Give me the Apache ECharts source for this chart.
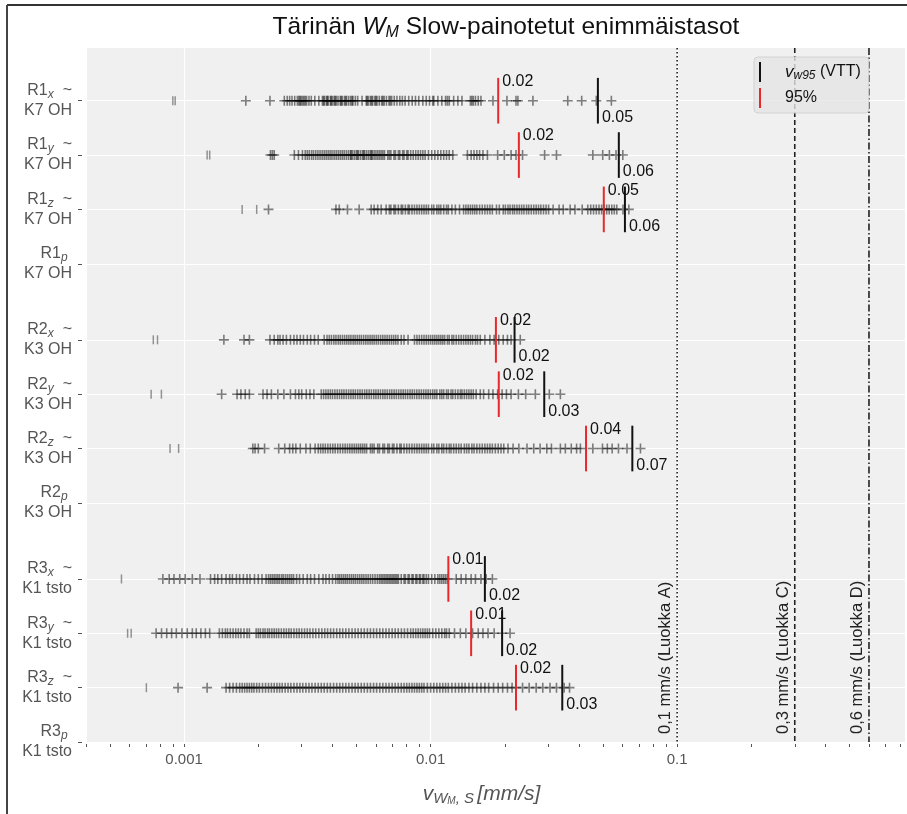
<!DOCTYPE html>
<html>
<head>
<meta charset="utf-8">
<script src="https://cdn.jsdelivr.net/npm/echarts@6/dist/echarts.min.js"></script>
<style>
  html, body { margin: 0; padding: 0; background: #fff; }
  #chart { width: 907px; height: 814px; }
</style>
</head>
<body>
<div id="chart"></div>
<script>
(function () {
    'use strict';

    var FONT = '"Liberation Sans", Arial, sans-serif';

    // rows (top to bottom) and their positions on the y axis
    var rowName = ['R1', 'R1', 'R1', 'R1', 'R2', 'R2', 'R2', 'R2', 'R3', 'R3', 'R3', 'R3'];
    var rowDir = ['x', 'y', 'z', 'p', 'x', 'y', 'z', 'p', 'x', 'y', 'z', 'p'];
    var rowSite = ['K7 OH', 'K7 OH', 'K7 OH', 'K7 OH', 'K3 OH', 'K3 OH', 'K3 OH', 'K3 OH',
        'K1 tsto', 'K1 tsto', 'K1 tsto', 'K1 tsto'];
    var rowPos = [0, 1, 2, 3, 4.4, 5.4, 6.4, 7.4, 8.8, 9.8, 10.8, 11.8];

    // measured maxima per row, mm/s ('+' markers)
    var r1x = [0.00178, 0.00223, 0.00255, 0.00262, 0.00268, 0.00274, 0.00281, 0.00288, 0.00292, 0.00295, 0.00298,
        0.00302, 0.00306, 0.0031, 0.00314, 0.00321, 0.00328, 0.00339, 0.00352, 0.00364, 0.00368, 0.00371, 0.00378,
        0.00381, 0.00384, 0.00392, 0.00395, 0.00399, 0.00406, 0.0041, 0.00414, 0.00421, 0.0043, 0.00434, 0.00438,
        0.00447, 0.00452, 0.00456, 0.00465, 0.00474, 0.0048, 0.00484, 0.00495, 0.00506, 0.00527, 0.00548, 0.00553,
        0.00559, 0.0057, 0.00576, 0.00582, 0.00594, 0.006, 0.00606, 0.00619, 0.00633, 0.0064, 0.00648, 0.00662,
        0.00678, 0.00686, 0.00695, 0.00712, 0.0073, 0.0075, 0.00768, 0.00788, 0.00815, 0.00842, 0.00868, 0.00895,
        0.0093, 0.0096, 0.0099, 0.0102, 0.0103, 0.0107, 0.0111, 0.0115, 0.0117, 0.0119, 0.0124, 0.0129, 0.0134,
        0.0145, 0.0147, 0.0149, 0.0152, 0.0156, 0.016, 0.0179, 0.0204, 0.0222, 0.0226, 0.026, 0.036, 0.041,
        0.047, 0.0541];
    var r1y = [0.00224, 0.00228, 0.00232, 0.0028, 0.00291, 0.00302, 0.0031, 0.00316, 0.00322, 0.00329, 0.00335,
        0.00342, 0.00349, 0.00356, 0.00363, 0.0037, 0.00377, 0.00384, 0.00391, 0.00398, 0.00406, 0.00414, 0.00422,
        0.0043, 0.00438, 0.00446, 0.00455, 0.00464, 0.00473, 0.00476, 0.00482, 0.00491, 0.005, 0.00505, 0.0051,
        0.0052, 0.0053, 0.00535, 0.0054, 0.0055, 0.0056, 0.0057, 0.00575, 0.0058, 0.0059, 0.006, 0.0061, 0.0062,
        0.0063, 0.0064, 0.0065, 0.0067, 0.0068, 0.0069, 0.0071, 0.0072, 0.0074, 0.0075, 0.0077, 0.0078, 0.008,
        0.0081, 0.0083, 0.0085, 0.0087, 0.0089, 0.0091, 0.0093, 0.0095, 0.0098, 0.0101, 0.0104, 0.0107, 0.011,
        0.0113, 0.0116, 0.0119, 0.0123, 0.0141, 0.0146, 0.015, 0.0154, 0.0158, 0.0163, 0.017, 0.0187, 0.0199,
        0.0212, 0.0222, 0.0236, 0.029, 0.0324, 0.0455, 0.0499, 0.0531, 0.0565, 0.0602];
    var r1z = [0.0022, 0.00413, 0.00426, 0.0046, 0.00513, 0.00574, 0.0059, 0.0061, 0.0063, 0.0066, 0.0068,
        0.0069, 0.0071, 0.0072, 0.0074, 0.0076, 0.0077, 0.0079, 0.0081, 0.0082, 0.0084, 0.0086, 0.0088, 0.009,
        0.0092, 0.0094, 0.0096, 0.0098, 0.0101, 0.0103, 0.0106, 0.0108, 0.011, 0.0113, 0.0116, 0.0118, 0.0122,
        0.0126, 0.0131, 0.0136, 0.0139, 0.0142, 0.0145, 0.0148, 0.0151, 0.0154, 0.0158, 0.0162, 0.0166, 0.017,
        0.0174, 0.0178, 0.0185, 0.019, 0.0197, 0.0201, 0.0206, 0.021, 0.0215, 0.0219, 0.0224, 0.0229, 0.0234,
        0.0239, 0.0245, 0.025, 0.0256, 0.0262, 0.0268, 0.0274, 0.028, 0.0287, 0.0294, 0.0301, 0.0314, 0.0332,
        0.0345, 0.0368, 0.0385, 0.0412, 0.0434, 0.0446, 0.0458, 0.047, 0.0482, 0.0494, 0.0506, 0.0518, 0.053,
        0.0543, 0.0556, 0.0569, 0.0603, 0.0637];
    var r2x = [0.00145, 0.00175, 0.00184, 0.00223, 0.00232, 0.0024, 0.00245, 0.00252, 0.0026, 0.0027, 0.00279,
        0.00287, 0.00296, 0.00305, 0.00316, 0.00326, 0.00338, 0.0035, 0.0037, 0.0038, 0.00388, 0.00396, 0.00405,
        0.00413, 0.00422, 0.0043, 0.00439, 0.00448, 0.00457, 0.00466, 0.00475, 0.00485, 0.00494, 0.00504, 0.00514,
        0.00524, 0.00535, 0.00546, 0.00557, 0.00568, 0.00579, 0.0059, 0.00602, 0.00614, 0.00627, 0.0064, 0.00653,
        0.00666, 0.0068, 0.00694, 0.00708, 0.00722, 0.00737, 0.0076, 0.0078, 0.0081, 0.0086, 0.0088, 0.009,
        0.0092, 0.0094, 0.0096, 0.0098, 0.01, 0.0102, 0.0104, 0.0106, 0.0108, 0.011, 0.0112, 0.0114, 0.0117,
        0.0119, 0.0122, 0.0124, 0.0127, 0.013, 0.0133, 0.0136, 0.0139, 0.0142, 0.0145, 0.0148, 0.0152, 0.0155,
        0.0159, 0.0166, 0.0174, 0.0181, 0.0189, 0.0197, 0.0205, 0.0212, 0.0231];
    var r2y = [0.00142, 0.00164, 0.0017, 0.00177, 0.00184, 0.00209, 0.00217, 0.00226, 0.0024, 0.00254, 0.0027,
        0.00283, 0.00292, 0.003, 0.00313, 0.00324, 0.00336, 0.0036, 0.00368, 0.00376, 0.00384, 0.00392, 0.004,
        0.00409, 0.00418, 0.00427, 0.00436, 0.00445, 0.00455, 0.00465, 0.00475, 0.00485, 0.00495, 0.00506,
        0.00517, 0.00528, 0.0054, 0.00551, 0.00563, 0.00575, 0.00588, 0.006, 0.00613, 0.00626, 0.0064, 0.00653,
        0.00667, 0.00682, 0.00696, 0.00711, 0.00726, 0.00742, 0.00758, 0.00774, 0.0079, 0.00807, 0.00825, 0.00842,
        0.0086, 0.00879, 0.00898, 0.00917, 0.00937, 0.00957, 0.00977, 0.00998, 0.0102, 0.0104, 0.0106, 0.0109,
        0.0111, 0.0113, 0.0116, 0.0118, 0.0121, 0.0123, 0.0126, 0.0129, 0.0132, 0.0134, 0.0137, 0.014, 0.0143,
        0.0146, 0.0149, 0.0153, 0.0159, 0.0164, 0.0172, 0.0179, 0.0187, 0.0195, 0.0203, 0.0212, 0.0227, 0.0243,
        0.0266, 0.0303, 0.0336];
    var r2z = [0.0019, 0.00194, 0.002, 0.00212, 0.00242, 0.00256, 0.00268, 0.00276, 0.00284, 0.00296, 0.00312,
        0.00325, 0.0034, 0.0035, 0.00358, 0.00366, 0.00374, 0.00383, 0.00392, 0.00401, 0.0041, 0.0042, 0.0043,
        0.0044, 0.0045, 0.0046, 0.0047, 0.0048, 0.0049, 0.0050, 0.0051, 0.0052, 0.0053, 0.0054, 0.0055, 0.0057,
        0.0058, 0.0059, 0.0061, 0.0062, 0.0064, 0.0065, 0.0067, 0.0068, 0.007, 0.0071, 0.0073, 0.0075, 0.0076,
        0.0078, 0.008, 0.0082, 0.0084, 0.0086, 0.0088, 0.009, 0.0092, 0.0094, 0.0096, 0.0098, 0.0101, 0.0103,
        0.0106, 0.0108, 0.0111, 0.0113, 0.0116, 0.0119, 0.0121, 0.0124, 0.0127, 0.013, 0.0133, 0.0137, 0.014,
        0.0143, 0.0147, 0.015, 0.0154, 0.0158, 0.0162, 0.0166, 0.017, 0.0174, 0.0178, 0.0183, 0.0188, 0.0193,
        0.0198, 0.0206, 0.0216, 0.0228, 0.0246, 0.0262, 0.0278, 0.0296, 0.0309, 0.0336, 0.0352, 0.0372, 0.0391,
        0.0405, 0.0455, 0.0498, 0.0521, 0.0545, 0.0578, 0.0626, 0.071];
    var r3x = [0.00082, 0.00087, 0.00091, 0.00096, 0.00101, 0.00108, 0.00116, 0.00128, 0.00133, 0.00137, 0.00142,
        0.00148, 0.00153, 0.00157, 0.00163, 0.00168, 0.00174, 0.0018, 0.00185, 0.00193, 0.002, 0.00207, 0.00215,
        0.0022, 0.00224, 0.00228, 0.00232, 0.00236, 0.0024, 0.00244, 0.00249, 0.00253, 0.00258, 0.00263, 0.00268,
        0.00273, 0.00278, 0.00286, 0.00294, 0.00304, 0.00316, 0.00326, 0.00338, 0.00352, 0.00366, 0.00376, 0.00388,
        0.004, 0.00412, 0.00421, 0.00428, 0.00436, 0.00444, 0.00452, 0.0046, 0.00469, 0.00478, 0.00487, 0.00496,
        0.00506, 0.00516, 0.00526, 0.00536, 0.00547, 0.00558, 0.0057, 0.00582, 0.00595, 0.00608, 0.0062, 0.0063,
        0.0064, 0.0065, 0.0066, 0.0067, 0.0068, 0.0069, 0.007, 0.0071, 0.0072, 0.0073, 0.0074, 0.0076, 0.0078,
        0.0079, 0.0081, 0.0082, 0.0084, 0.0085, 0.0087, 0.0088, 0.009, 0.0091, 0.0093, 0.0094, 0.0096, 0.0098,
        0.0101, 0.0104, 0.0107, 0.0109, 0.0111, 0.0113, 0.0115, 0.0117, 0.0127, 0.0133, 0.0139, 0.0146, 0.0152,
        0.016, 0.0168, 0.0178];
    var r3y = [0.00077, 0.00081, 0.00085, 0.00089, 0.00093, 0.00098, 0.00103, 0.00108, 0.00112, 0.00117, 0.00122,
        0.00127, 0.00139, 0.00143, 0.00147, 0.0015, 0.00154, 0.00158, 0.00162, 0.00166, 0.0017, 0.00175, 0.0018,
        0.00184, 0.00196, 0.002, 0.00204, 0.00209, 0.00213, 0.00218, 0.00222, 0.00227, 0.00232, 0.00237, 0.00242,
        0.00248, 0.00254, 0.0026, 0.00266, 0.00272, 0.00279, 0.00286, 0.00293, 0.003, 0.00308, 0.00316, 0.00324,
        0.00333, 0.00342, 0.00352, 0.00362, 0.00372, 0.00382, 0.00393, 0.00404, 0.00416, 0.00428, 0.0044, 0.00453,
        0.00466, 0.0048, 0.00494, 0.00508, 0.00523, 0.00538, 0.00554, 0.0057, 0.00587, 0.00604, 0.00622, 0.0064,
        0.00659, 0.00678, 0.00698, 0.00718, 0.00739, 0.00761, 0.00783, 0.00806, 0.0083, 0.0085, 0.0087, 0.0089,
        0.0091, 0.0093, 0.0095, 0.0097, 0.0099, 0.0102, 0.0105, 0.0108, 0.0111, 0.0114, 0.0116, 0.0119, 0.0125,
        0.0132, 0.0139, 0.0148, 0.0156, 0.0163, 0.0171, 0.0181, 0.0195, 0.021];
    var r3z = [0.000945, 0.00124, 0.00148, 0.00153, 0.00158, 0.00163, 0.00168, 0.00172, 0.00176, 0.0018, 0.00184,
        0.00188, 0.00192, 0.00197, 0.00202, 0.00208, 0.00214, 0.0022, 0.00226, 0.00232, 0.00238, 0.00244, 0.0025,
        0.00257, 0.00264, 0.00271, 0.00279, 0.00287, 0.00295, 0.00303, 0.00312, 0.00321, 0.0033, 0.0034, 0.0035,
        0.0036, 0.0037, 0.00381, 0.00392, 0.00404, 0.00416, 0.00428, 0.0044, 0.00453, 0.00466, 0.0048, 0.00494,
        0.00508, 0.00523, 0.00538, 0.00554, 0.0057, 0.00587, 0.00604, 0.00622, 0.0064, 0.00659, 0.00678, 0.00698,
        0.00718, 0.00739, 0.0076, 0.0078, 0.008, 0.0082, 0.0084, 0.0086, 0.0088, 0.009, 0.0092, 0.0094, 0.0097,
        0.01, 0.0103, 0.0106, 0.0109, 0.0112, 0.0115, 0.0118, 0.0122, 0.0126, 0.013, 0.0134, 0.0138, 0.0143,
        0.0148, 0.0154, 0.016, 0.0166, 0.0172, 0.018, 0.0188, 0.0196, 0.0205, 0.0214, 0.0222, 0.0236, 0.0251,
        0.0268, 0.0285, 0.0305, 0.0324, 0.0348, 0.0366];
    var rowPoints = [r1x, r1y, r1z, [], r2x, r2y, r2z, [], r3x, r3y, r3z, []];

    // smallest readings, drawn as '|' marks
    var rowLow = [[0.0009, 0.00092], [0.00124, 0.00127], [0.00172, 0.00197], [],
        [0.00075, 0.00078], [0.000735, 0.000809], [0.000877, 0.00095], [],
        [0.000557], [0.00059, 0.00061], [0.000703], []];

    // 95 % value and v_w95 (VTT) per row
    var p95 = [0.0188, 0.0228, 0.0504, null, 0.0184, 0.0189, 0.0427, null, 0.0118, 0.0146, 0.0222, null];
    var vw95 = [0.0477, 0.058, 0.0614, null, 0.0219, 0.0289, 0.0658, null, 0.0166, 0.0195, 0.0342, null];

    // class limits
    var limitValues = [0.1, 0.3, 0.6];
    var limitLabels = ['0,1 mm/s (Luokka A)', '0,3 mm/s (Luokka C)', '0,6 mm/s (Luokka D)'];
    var limitDash = [[1.5, 2.5], [5, 3], [7, 2.5, 1.5, 2.5]];

    var xMajor = [0.001, 0.01, 0.1];
    var xMinor = [0.0004, 0.0005, 0.0006, 0.0007, 0.0008, 0.0009, 0.001, 0.002, 0.003, 0.004, 0.005, 0.006,
        0.007, 0.008, 0.009, 0.01, 0.02, 0.03, 0.04, 0.05, 0.06, 0.07, 0.08, 0.09, 0.1, 0.2, 0.3, 0.4, 0.5,
        0.6, 0.7, 0.8];

    var X_MIN = 0.0004, X_MAX = 0.84, Y_MIN = -0.97, Y_MAX = 11.8;
    var HALF = 0.42;

    var plusPath = 'path://M4.2,0h1.6v4.2h4.2v1.6h-4.2v4.2h-1.6v-4.2h-4.2v-1.6h4.2z';
    var barPath = 'path://M0,0h1v10h-1z';

    var plusData = [], lowData = [], p95Data = [], vwData = [];
    rowPoints.forEach(function (arr, i) {
        arr.forEach(function (v) { plusData.push([v, rowPos[i]]); });
        rowLow[i].forEach(function (v) { lowData.push([v, rowPos[i]]); });
        if (p95[i] != null) p95Data.push([p95[i], rowPos[i]]);
        if (vw95[i] != null) vwData.push([vw95[i], rowPos[i]]);
    });
    var limitData = limitValues.map(function (v) { return [v, Y_MAX]; });

    function rowLabel(value) {
        var i = rowPos.indexOf(value);
        if (i < 0) return '';
        var first = rowDir[i] === 'p'
            ? '{n|' + rowName[i] + '}{s|' + rowDir[i] + '}{n| }'
            : '{n|' + rowName[i] + '}{s|' + rowDir[i] + '}{n|  ~}';
        return first + '\n{n|' + rowSite[i] + '}';
    }

    function markRenderer(color, labelDy) {
        return function (params, api) {
            var x = api.value(0), y = api.value(1);
            var top = api.coord([x, y - HALF]);
            var bot = api.coord([x, y + HALF]);
            var mid = api.coord([x, y]);
            return {
                type: 'group',
                children: [{
                    type: 'line',
                    shape: { x1: top[0], y1: top[1], x2: bot[0], y2: bot[1] },
                    style: { stroke: color, lineWidth: 2 }
                }, {
                    type: 'text',
                    x: mid[0] + 4,
                    y: mid[1] + labelDy,
                    style: {
                        text: x.toFixed(2),
                        fill: '#111',
                        font: '16px ' + FONT,
                        textAlign: 'left',
                        textVerticalAlign: 'middle'
                    }
                }]
            };
        };
    }

    var chart = echarts.init(document.getElementById('chart'));
    var option = {
        backgroundColor: '#fff',
        animation: false,
        title: {
            text: '{n|Tärinän }{i|W}{s|M}{n| Slow-painotetut enimmäistasot}',
            left: 506,
            top: 14,
            textAlign: 'center',
            padding: 0,
            textStyle: {
                fontWeight: 'normal',
                rich: {
                    n: { fontFamily: FONT, fontSize: 24.5, fontWeight: 'normal', color: '#111', lineHeight: 27 },
                    i: { fontFamily: FONT, fontSize: 24.5, fontWeight: 'normal', color: '#111', fontStyle: 'italic', lineHeight: 27 },
                    s: { fontFamily: FONT, fontSize: 16, fontWeight: 'normal', color: '#111', fontStyle: 'italic', lineHeight: 20, verticalAlign: 'bottom' }
                }
            }
        },
        legend: {
            orient: 'vertical',
            left: 754,
            top: 57,
            padding: [5, 8, 5, 5],
            itemGap: 6,
            itemWidth: 40,
            itemHeight: 20,
            backgroundColor: 'rgba(229,229,229,0.8)',
            borderColor: '#d2d2d2',
            borderWidth: 1,
            borderRadius: 4,
            data: [
                { name: 'vw95', icon: barPath },
                { name: '95%', icon: barPath }
            ],
            formatter: function (name) {
                return name === 'vw95' ? '{v|v}{s|w95}{t| (VTT)}' : '{t|95%}';
            },
            textStyle: {
                rich: {
                    v: { fontFamily: FONT, fontSize: 17, fontStyle: 'italic', color: '#111', lineHeight: 20 },
                    s: { fontFamily: FONT, fontSize: 12, fontStyle: 'italic', color: '#111', lineHeight: 16, verticalAlign: 'bottom' },
                    t: { fontFamily: FONT, fontSize: 16, color: '#111', lineHeight: 20 }
                }
            }
        },
        grid: {
            left: 86,
            right: 2,
            top: 48,
            bottom: 72,
            show: true,
            backgroundColor: '#f0f0f0',
            borderWidth: 0
        },
        xAxis: [{
            type: 'log',
            logBase: 10,
            min: X_MIN,
            max: X_MAX,
            position: 'bottom',
            offset: 2,
            axisLine: { show: false },
            axisTick: { show: false },
            axisLabel: {
                customValues: xMajor,
                margin: 8,
                color: '#555',
                fontFamily: FONT,
                fontSize: 15,
                formatter: function (v) { return String(v); }
            },
            splitLine: { show: true, lineStyle: { color: '#fff', width: 1.2 } },
            name: '{v|v}{s|W}{ss|M}{s|, S} {u|[mm/s]}',
            nameLocation: 'middle',
            nameGap: 38,
            nameTextStyle: {
                padding: [0, 28, 0, 0],
                rich: {
                    v: { fontFamily: FONT, fontSize: 21, fontStyle: 'italic', color: '#555', lineHeight: 24 },
                    s: { fontFamily: FONT, fontSize: 15, fontStyle: 'italic', color: '#555', lineHeight: 20, verticalAlign: 'bottom' },
                    ss: { fontFamily: FONT, fontSize: 10, fontStyle: 'italic', color: '#555', lineHeight: 14, verticalAlign: 'bottom' },
                    u: { fontFamily: FONT, fontSize: 21, fontStyle: 'italic', color: '#555', lineHeight: 24 }
                }
            }
        }, {
            type: 'log',
            logBase: 10,
            min: X_MIN,
            max: X_MAX,
            position: 'bottom',
            offset: 2,
            axisLine: { show: false },
            axisTick: { show: true, customValues: xMinor, length: 3, lineStyle: { color: '#555', width: 1 } },
            axisLabel: { show: false },
            splitLine: { show: false }
        }],
        yAxis: {
            type: 'value',
            inverse: true,
            min: Y_MIN,
            max: Y_MAX,
            offset: 4,
            axisLine: { show: false },
            axisTick: { show: true, customValues: rowPos, length: 4, lineStyle: { color: '#555', width: 1 } },
            axisLabel: {
                customValues: rowPos,
                margin: 10,
                align: 'right',
                formatter: rowLabel,
                rich: {
                    n: { fontFamily: FONT, fontSize: 16, color: '#555', lineHeight: 20 },
                    s: { fontFamily: FONT, fontSize: 12, color: '#555', fontStyle: 'italic', lineHeight: 14, verticalAlign: 'bottom' }
                }
            },
            splitLine: { show: true, lineStyle: { color: '#fff', width: 1.2 } }
        },
        graphic: [
            { type: 'line', shape: { x1: 7, y1: 5, x2: 907, y2: 5 }, style: { stroke: '#333', lineWidth: 2 }, silent: true },
            { type: 'line', shape: { x1: 7, y1: 5, x2: 7, y2: 814 }, style: { stroke: '#444', lineWidth: 2 }, silent: true }
        ],
        series: [{
            name: 'limits',
            type: 'custom',
            data: limitData,
            encode: { x: 0, y: 1 },
            z: 2,
            silent: true,
            renderItem: function (params, api) {
                var x = api.value(0);
                var top = api.coord([x, Y_MIN]);
                var bot = api.coord([x, Y_MAX]);
                return {
                    type: 'group',
                    children: [{
                        type: 'line',
                        shape: { x1: top[0], y1: top[1], x2: bot[0], y2: bot[1] },
                        style: { stroke: '#222', lineWidth: 1.6, lineDash: limitDash[params.dataIndex] }
                    }, {
                        type: 'text',
                        x: bot[0] - 3,
                        y: bot[1] - 8,
                        rotation: Math.PI / 2,
                        style: {
                            text: limitLabels[params.dataIndex],
                            fill: '#222',
                            font: '16.5px ' + FONT,
                            textAlign: 'left',
                            textVerticalAlign: 'bottom'
                        }
                    }]
                };
            }
        }, {
            name: 'points',
            type: 'scatter',
            data: plusData,
            symbol: plusPath,
            symbolSize: 10,
            itemStyle: { color: 'rgba(0,0,0,0.62)' },
            silent: true,
            z: 3
        }, {
            name: 'low',
            type: 'scatter',
            data: lowData,
            symbol: barPath,
            symbolSize: [1.5, 9],
            itemStyle: { color: 'rgba(0,0,0,0.5)' },
            silent: true,
            z: 3
        }, {
            name: '95%',
            type: 'custom',
            data: p95Data,
            encode: { x: 0, y: 1 },
            itemStyle: { color: '#e8282b' },
            z: 4,
            renderItem: markRenderer('#e8282b', -19)
        }, {
            name: 'vw95',
            type: 'custom',
            data: vwData,
            encode: { x: 0, y: 1 },
            itemStyle: { color: '#111' },
            z: 4,
            renderItem: markRenderer('#111', 17)
        }]
    };
    chart.setOption(option);
})();
</script>
</body>
</html>
